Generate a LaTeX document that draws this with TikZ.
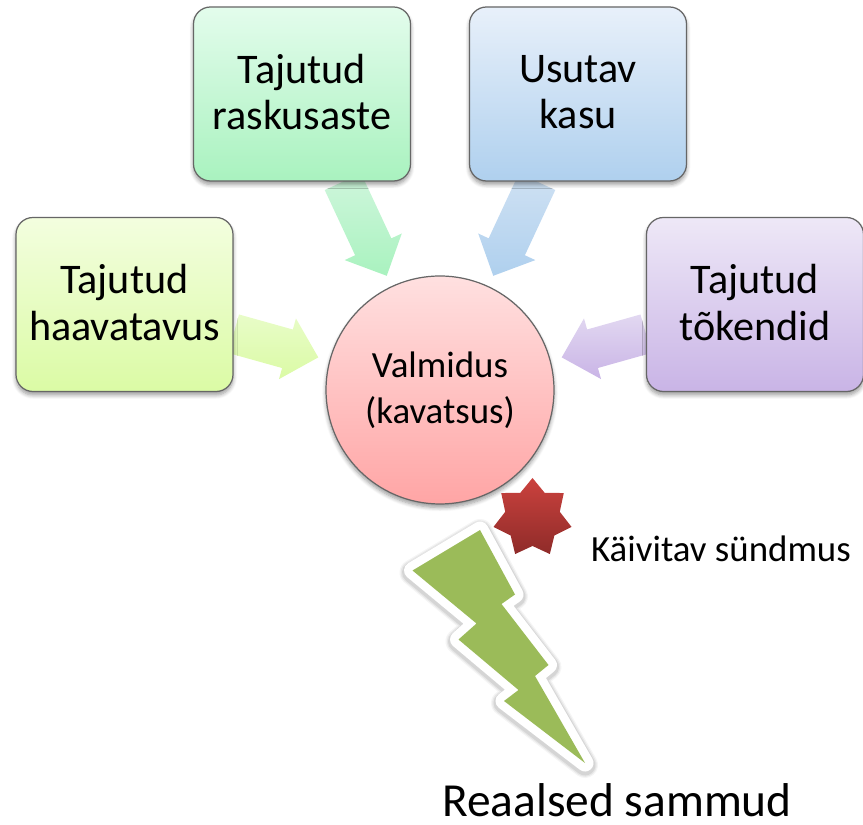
\documentclass[tikz,border=0pt]{standalone}
\usepackage{fontspec}
\setmainfont{Carlito}
\usetikzlibrary{calc, shadows.blur, shapes.geometric, backgrounds}

\definecolor{limetop}{HTML}{F3FEDF}
\definecolor{limebottom}{HTML}{DBFBA5}
\definecolor{limearrow}{HTML}{E8FCC8}
\definecolor{minttop}{HTML}{E3FCEC}
\definecolor{mintbottom}{HTML}{A9F2BF}
\definecolor{mintarrow}{HTML}{CFF6DC}
\definecolor{skytop}{HTML}{E8F0FA}
\definecolor{skybottom}{HTML}{AFD0EE}
\definecolor{skyarrow}{HTML}{CFE1F3}
\definecolor{lilactop}{HTML}{EEE8F7}
\definecolor{lilacbottom}{HTML}{C9B4E6}
\definecolor{lilacarrow}{HTML}{E2D8F1}
\definecolor{rosetop}{HTML}{FFE0E0}
\definecolor{rosebottom}{HTML}{FFA5A5}
\definecolor{startop}{HTML}{CB423E}
\definecolor{starbottom}{HTML}{8F2B29}
\definecolor{bolt}{HTML}{9BBB59}

\begin{document}
\begin{tikzpicture}
	[softshadow/.style={blur shadow = {shadow xshift = 0cm, shadow yshift = -0.07cm,
		shadow blur radius = 0.08cm, shadow blur steps = 6, shadow opacity = 40}},
	factor/.style={draw = black!60, line width = 0.7pt, rounded corners = 0.34cm,
		minimum width = 4.34cm, minimum height = 3.48cm, align = center,
		text depth = 0.08cm, font = \fontsize{24}{26.4}\selectfont, softshadow},
	readiness/.style={circle, draw = black!60, line width = 0.7pt, minimum size = 4.56cm,
		align = center, top color = rosetop, bottom color = rosebottom,
		font = \fontsize{21}{26}\selectfont, softshadow},
	trigger/.style={star, star points = 7, star point ratio = 1.43, minimum size = 1.6cm,
		inner sep = 0pt, top color = startop, bottom color = starbottom}]
	\useasboundingbox (0, 0) rectangle (17.26, 16.48);

	\node[factor, top color = limetop, bottom color = limebottom] (haavatavus) at (2.49, 10.39) {Tajutud\\haavatavus};
	\node[factor, top color = minttop, bottom color = mintbottom] (raskusaste) at (6.04, 14.6) {Tajutud\\raskusaste};
	\node[factor, top color = skytop, bottom color = skybottom] (kasu) at (11.56, 14.6) {Usutav\\kasu};
	\node[factor, top color = lilactop, bottom color = lilacbottom] (tokendid) at (15.1, 10.39) {Tajutud\\tõkendid};
	\node[readiness] (valmidus) at (8.8, 8.68) {Valmidus\\(kavatsus)};

	\begin{scope}[on background layer]
		\foreach \from/\atail/\atip/\ctop/\cbot in
			{haavatavus/345/165/limearrow/limebottom, raskusaste/295/115/mintarrow/mintbottom,
			kasu/245/65/skyarrow/skybottom, tokendid/195/15/lilacarrow/lilacbottom} {
			\coordinate (tail) at (\from.\atail);
			\coordinate (tip) at ($(valmidus)+(\atip:2.52)$);
			\coordinate (neck) at ($(tip)!0.64cm!(tail)$);
			\shade[top color = \ctop, bottom color = \cbot]
				($(tail)!0.4cm!90:(tip)$) -- ($(neck)!0.4cm!90:(tip)$) -- ($(neck)!0.63cm!90:(tip)$)
				-- (tip) -- ($(neck)!0.63cm!-90:(tip)$) -- ($(neck)!0.4cm!-90:(tip)$)
				-- ($(tail)!0.4cm!-90:(tip)$) -- cycle;
		}
	\end{scope}

	% lightning
	\foreach \w/\o in {0.52/0.04, 0.47/0.06, 0.42/0.08} {
		\draw[black, opacity = \o, line width = \w cm, line join = round, yshift = -0.04cm]
			(9.6, 5.88) -- (10.3, 4.59) -- (10.03, 4.4) -- (10.97, 3.18) -- (10.7, 2.96)
			-- (11.7, 1.22) -- (10.08, 2.46) -- (10.37, 2.68) -- (9.17, 3.69) -- (9.53, 4.01)
			-- (8.25, 5.07) -- cycle;
	}
	\draw[white, fill = bolt, line width = 0.34cm, line join = round]
		(9.6, 5.88) -- (10.3, 4.59) -- (10.03, 4.4) -- (10.97, 3.18) -- (10.7, 2.96)
		-- (11.7, 1.22) -- (10.08, 2.46) -- (10.37, 2.68) -- (9.17, 3.69) -- (9.53, 4.01)
		-- (8.25, 5.07) -- cycle;
	\fill[bolt]
		(9.6, 5.88) -- (10.3, 4.59) -- (10.03, 4.4) -- (10.97, 3.18) -- (10.7, 2.96)
		-- (11.7, 1.22) -- (10.08, 2.46) -- (10.37, 2.68) -- (9.17, 3.69) -- (9.53, 4.01)
		-- (8.25, 5.07) -- cycle;

	\node[trigger] (sundmus) at (10.65, 6.12) {};
	\node[font = \fontsize{21}{24}\selectfont] (kaivitav) at (14.42, 5.5) {Käivitav sündmus};
	\node[font = \fontsize{27}{30}\selectfont, anchor = base, inner sep = 0pt] (sammud) at (12.34, 0.14) {Reaalsed sammud};
\end{tikzpicture}
\end{document}
